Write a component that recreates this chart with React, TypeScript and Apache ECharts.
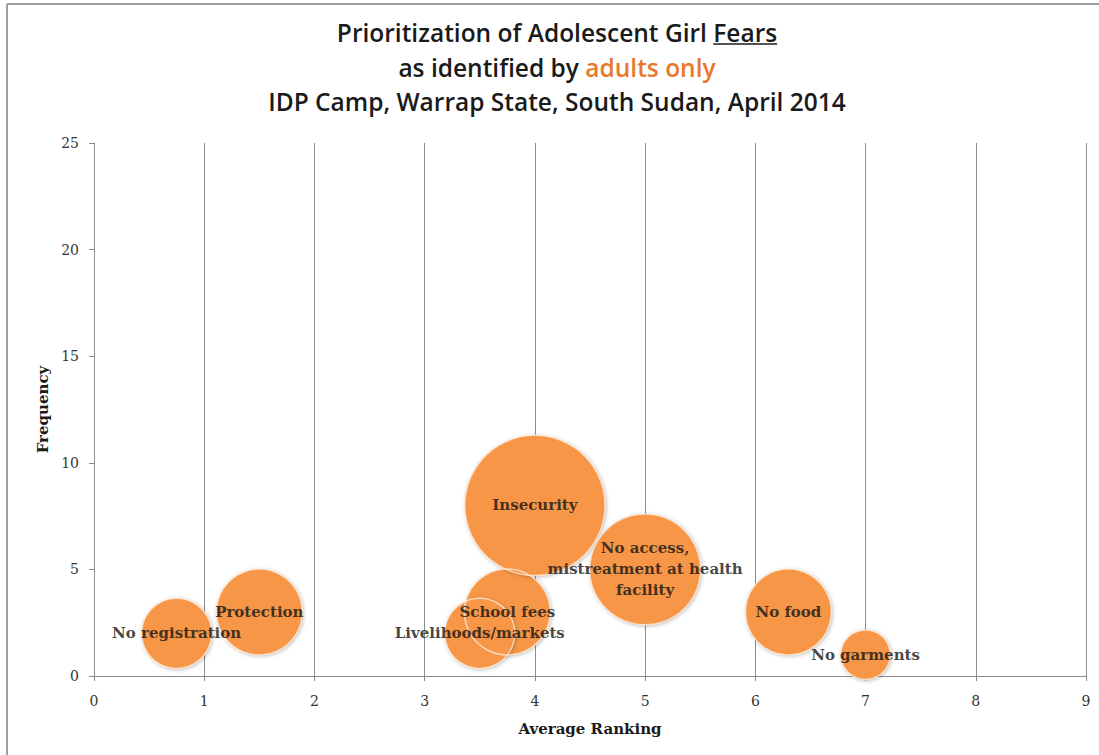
import React, { useEffect, useRef } from 'react';
import * as echarts from 'echarts';

const titleLine1 = 'Prioritization of Adolescent Girl';
const titleUnderlined = 'Fears';
const titleLine2a = 'as identified by';
const titleLine2b = 'adults only';
const titleLine3 = 'IDP Camp, Warrap State, South Sudan, April 2014';

const xAxisName = 'Average Ranking';
const yAxisName = 'Frequency';

const fears = [
  'No registration',
  'Protection',
  'School fees',
  'Livelihoods/markets',
  'Insecurity',
  'No access,\nmistreatment at health\nfacility',
  'No food',
  'No garments',
];
const averageRanking = [0.75, 1.5, 3.75, 3.5, 4, 5, 6.3, 7];
const frequency = [2, 3, 3, 2, 8, 5, 3, 1];
const bubbleSize = [2, 3, 3, 2, 8, 5, 3, 1];

const xMin = 0, xMax = 9, xStep = 1;
const yMin = 0, yMax = 25, yStep = 5;

const W = 1099, H = 755;
const TITLE_FONT = '"Open Sans"';
const TITLE_SIZE = 24.5;
const TITLE_WEIGHT = '600';
const SERIF = '"DejaVu Serif", serif';

function measure(text: string, font: string): number {
  const c = document.createElement('canvas');
  const ctx = c.getContext('2d')!;
  ctx.font = font;
  return ctx.measureText(text).width;
}

export default function App() {
  const ref = useRef<HTMLDivElement>(null);
  useEffect(() => {
    if (!ref.current) return;
    const chart = echarts.init(ref.current, undefined, { renderer: 'svg' });
    const font = `${TITLE_WEIGHT} ${TITLE_SIZE}px ${TITLE_FONT}`;
    const space = measure(' ', font);
    const cx = 557;

    const w1a = measure(titleLine1, font);
    const w1b = measure(titleUnderlined, font);
    const s1 = cx - (w1a + space + w1b) / 2;
    const w2a = measure(titleLine2a, font);
    const w2b = measure(titleLine2b, font);
    const s2 = cx - (w2a + space + w2b) / 2;

    const y1 = 32, y2 = 67, y3 = 101;
    const tStyle = (text: string, x: number, y: number, fill: string, align = 'left') => ({
      type: 'text',
      x,
      y,
      style: {
        text,
        fill,
        font,
        fontFamily: TITLE_FONT,
        fontSize: TITLE_SIZE,
        fontWeight: TITLE_WEIGHT,
        align,
        verticalAlign: 'middle',
      },
    });

    const data = fears.map((n, i) => [averageRanking[i], frequency[i], bubbleSize[i], n]);
    const sizeFn = (d: any) => 49.6 * Math.sqrt(d[2]);

    chart.setOption({
      animation: false,
      backgroundColor: '#fff',
      grid: { left: 94, right: 13, top: 143, bottom: 79 },
      xAxis: {
        type: 'value',
        min: xMin,
        max: xMax,
        interval: xStep,
        name: xAxisName,
        nameLocation: 'middle',
        nameGap: 45,
        nameTextStyle: { fontFamily: SERIF, fontWeight: 'bold', fontSize: 15, color: '#1a1a1a' },
        axisLine: { show: true, lineStyle: { color: '#8c8c8c', width: 1 } },
        axisTick: { show: true, length: 5, lineStyle: { color: '#8c8c8c' } },
        axisLabel: { fontFamily: SERIF, fontSize: 14, color: '#333', margin: 18 },
        splitLine: { show: true, lineStyle: { color: '#8c8c8c', width: 1 } },
      },
      yAxis: {
        type: 'value',
        min: yMin,
        max: yMax,
        interval: yStep,
        name: yAxisName,
        nameLocation: 'middle',
        nameGap: 44,
        nameRotate: 90,
        nameTextStyle: { fontFamily: SERIF, fontWeight: 'bold', fontSize: 15, color: '#1a1a1a' },
        axisLine: { show: true, lineStyle: { color: '#8c8c8c', width: 1 } },
        axisTick: { show: true, length: 5, lineStyle: { color: '#8c8c8c' } },
        axisLabel: { fontFamily: SERIF, fontSize: 14, color: '#333', margin: 15 },
        splitLine: { show: false },
      },
      graphic: [
        { type: 'line', shape: { x1: 7, y1: 4, x2: W, y2: 4 }, style: { stroke: '#a0a0a0', lineWidth: 2 } },
        { type: 'line', shape: { x1: 7, y1: 4, x2: 7, y2: H }, style: { stroke: '#a0a0a0', lineWidth: 2 } },
        tStyle(titleLine1, s1, y1, '#1a1a1a'),
        tStyle(titleUnderlined, s1 + w1a + space, y1, '#1a1a1a'),
        {
          type: 'line',
          shape: { x1: s1 + w1a + space, y1: y1 + 12, x2: s1 + w1a + space + w1b, y2: y1 + 12 },
          style: { stroke: '#1a1a1a', lineWidth: 1.5 },
        },
        tStyle(titleLine2a, s2, y2, '#1a1a1a'),
        tStyle(titleLine2b, s2 + w2a + space, y2, '#E8792B'),
        tStyle(titleLine3, cx, y3, '#1a1a1a', 'center'),
      ],
      series: [
        {
          type: 'scatter',
          data,
          symbolSize: sizeFn,
          itemStyle: {
            color: '#F79646',
            opacity: 1,
            shadowBlur: 4,
            shadowColor: 'rgba(0,0,0,0.3)',
            shadowOffsetX: 1,
            shadowOffsetY: 1,
          },
          z: 2,
        },
        {
          type: 'scatter',
          data,
          symbolSize: sizeFn,
          silent: true,
          itemStyle: { color: 'rgba(0,0,0,0)', borderColor: 'rgba(255,240,225,0.9)', borderWidth: 1.5 },
          label: {
            show: true,
            position: 'inside',
            formatter: (p: any) => p.data[3],
            fontFamily: SERIF,
            fontWeight: 'bold',
            fontSize: 15,
            color: '#141414',
            lineHeight: 21,
            align: 'center',
          },
          z: 3,
        },
      ],
    });
    return () => chart.dispose();
  }, []);
  return <div ref={ref} style={{ position: 'fixed', left: 0, top: 0, width: W, height: H }} />;
}
